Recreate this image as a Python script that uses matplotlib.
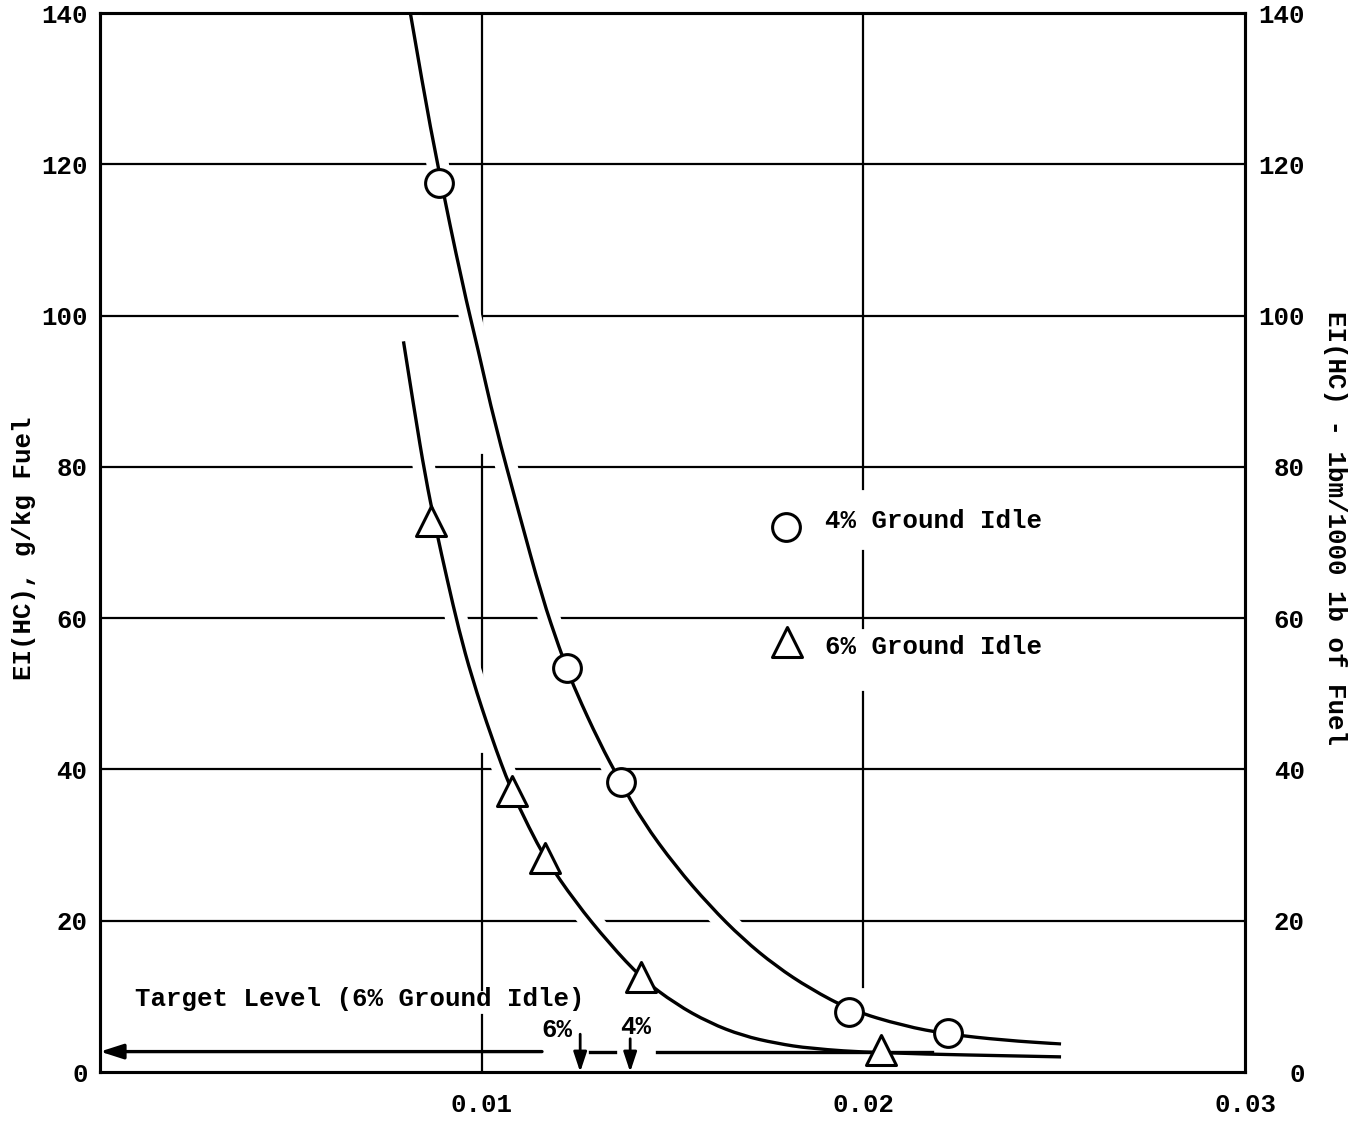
import matplotlib
matplotlib.use('Agg')
import matplotlib.pyplot as plt
import matplotlib.patheffects as pe
from matplotlib.markers import MarkerStyle
from matplotlib.path import Path
from matplotlib.patches import PathPatch

x_4pct = [0.00887, 0.01224, 0.01366, 0.01963, 0.02221]
y_4pct = [117.5, 53.4, 38.3, 8.0, 5.1]
x_6pct = [0.00866, 0.01079, 0.01166, 0.01418, 0.02047]
y_6pct = [72.8, 37.2, 28.3, 12.6, 2.9]

# faired curves
cx_4pct = [0.00813, 0.00847, 0.00884, 0.00950, 0.00991, 0.01034, 0.01097,
           0.01158, 0.01205, 0.01224, 0.01245, 0.01308, 0.01363, 0.01421, 0.01508,
           0.01597, 0.01684, 0.01771, 0.01861, 0.01966, 0.02105, 0.02221, 0.02368,
           0.02518]
cy_4pct = [140.0, 130.0, 120.0, 104.0, 95.4, 85.8, 74.0,
           62.8, 55.8, 53.3, 50.5, 43.6, 38.4, 33.2, 27.2,
           22.0, 17.6, 14.0, 11.0, 8.2, 6.1, 5.0, 4.2,
           3.7]
cx_6pct = [0.00795, 0.00824, 0.00852, 0.00880, 0.00910, 0.00940, 0.00974, 0.01026,
           0.01076, 0.01124, 0.01166, 0.01245, 0.01334, 0.01421, 0.01508, 0.01597,
           0.01684, 0.01771, 0.01861, 0.02034, 0.02518]
cy_6pct = [96.6, 87.3, 78.8, 71.8, 65.0, 58.5, 52.2, 44.2,
           37.4, 32.3, 28.3, 22.5, 17.0, 12.3, 9.0, 6.5,
           4.8, 3.8, 3.1, 2.5, 2.0]

target_level = 2.7
target_x_6 = 0.01258
target_x_4 = 0.01389

x_ticks = [0.01, 0.02, 0.03]
x_ticklabels = ['0.01', '0.02', '0.03']
y_ticks = [0, 20, 40, 60, 80, 100, 120, 140]

# pieces of the vertical rulings that were actually drawn (the rest is left blank)
vgrid_pieces = {0.01: [(0, 7.5), (10.9, 42.0), (50.2, 81.6), (95.6, 140)],
                0.02: [(11.3, 50.2), (58.7, 68.9), (77.1, 140)]}

plt.rcParams['font.family'] = ['Liberation Mono', 'DejaVu Sans Mono']
plt.rcParams['font.weight'] = 'bold'
plt.rcParams['axes.labelweight'] = 'bold'
FS = 18.5


def smooth(xs, ys):
    # quadratic bezier through the traced points (midpoint scheme)
    verts = [(xs[0], ys[0])]
    codes = [Path.MOVETO]
    for i in range(1, len(xs) - 1):
        verts.append((xs[i], ys[i]))
        verts.append(((xs[i] + xs[i + 1]) / 2, (ys[i] + ys[i + 1]) / 2))
        codes += [Path.CURVE3, Path.CURVE3]
    verts.append((xs[-1], ys[-1]))
    codes.append(Path.LINETO)
    return Path(verts, codes)


fig = plt.figure(figsize=(13.54, 11.25), dpi=100)
ax = fig.add_axes([0.0739, 0.0471, 0.8456, 0.9413])
ax.set_xlim(0, 0.03)
ax.set_ylim(0, 140)

# rulings
for gx, pieces in vgrid_pieces.items():
    for y0, y1 in pieces:
        ax.plot([gx, gx], [y0, y1], color='black', lw=1.6, zorder=1)
for gy in y_ticks[1:-1]:
    ax.axhline(gy, color='black', lw=1.6, zorder=1)

# curves, with a white halo so the rulings are broken where they cross
halo = [pe.Stroke(linewidth=16, foreground='white'), pe.Normal()]
for cx, cy in [(cx_4pct, cy_4pct), (cx_6pct, cy_6pct)]:
    ax.add_patch(PathPatch(smooth(cx, cy), fill=False, edgecolor='black', lw=2.4,
                           zorder=3, path_effects=halo, capstyle='butt'))

tri = MarkerStyle('^', joinstyle='round')
ax.plot(x_4pct, y_4pct, 'o', ms=20, mfc='white', mec='black', mew=2.2, zorder=5)
ax.plot(x_6pct, y_6pct, linestyle='none', marker=tri, ms=22, mfc='white',
        mec='black', mew=2.2, zorder=5)

# legend drawn inside the plot like the original
ax.plot([0.01797], [72.1], 'o', ms=20, mfc='white', mec='black', mew=2.2, zorder=5)
ax.plot([0.01800], [56.8], linestyle='none', marker=tri, ms=22, mfc='white',
        mec='black', mew=2.2, zorder=5)
ax.text(0.0190, 72.8, '4% Ground Idle', fontsize=FS, va='center', ha='left', zorder=6)
ax.text(0.0190, 56.2, '6% Ground Idle', fontsize=FS, va='center', ha='left', zorder=6)

# target level line with gaps around the two markers
ax.annotate('', xy=(0, target_level), xytext=(target_x_6 - 0.001, target_level),
            arrowprops=dict(arrowstyle='-|>,head_length=1.4,head_width=0.45',
                            color='black', lw=2.4, shrinkA=0, shrinkB=0), zorder=4)
ax.plot([target_x_6 + 0.00026, target_x_4 - 0.0004], [target_level, target_level],
        color='black', lw=2.4, zorder=4)
ax.plot([target_x_4 + 0.0007, 0.0218], [target_level, target_level],
        color='black', lw=2.4, zorder=4)
for tx, top in [(target_x_6, 5.0), (target_x_4, 4.4)]:
    ax.annotate('', xy=(tx, 0), xytext=(tx, top),
                arrowprops=dict(arrowstyle='-|>,head_length=1.2,head_width=0.4',
                                color='black', lw=2.0, shrinkA=0, shrinkB=0), zorder=4)
ax.text(target_x_6 - 0.0002, 5.6, '6%', fontsize=FS, ha='right', va='center', zorder=6)
ax.text(target_x_4 + 0.00014, 4.3, '4%', fontsize=FS, ha='center', va='bottom', zorder=6)
ax.text(0.00092, 9.6, 'Target Level (6% Ground Idle)', fontsize=FS, ha='left',
        va='center', zorder=6)

# axes styling
for sp in ax.spines.values():
    sp.set_linewidth(2.2)
ax.set_xticks(x_ticks)
ax.set_xticklabels(x_ticklabels)
ax.set_yticks(y_ticks)
ax.tick_params(axis='both', length=0, labelsize=FS)
ax.tick_params(axis='x', pad=15)
ax.tick_params(axis='y', pad=9)
ax.set_ylabel('EI(HC), g/kg Fuel', fontsize=FS)
ax.yaxis.set_label_coords(-0.0559, 0.495)

ax2 = ax.twinx()
ax2.set_ylim(0, 140)
ax2.set_yticks(y_ticks)
ax2.tick_params(axis='y', length=0, labelsize=FS, pad=43)
for lbl in ax2.get_yticklabels():
    lbl.set_horizontalalignment('right')
for sp in ax2.spines.values():
    sp.set_linewidth(2.2)
ax2.set_ylabel('EI(HC) - 1bm/1000 1b of Fuel', fontsize=FS, rotation=270, va='center')
ax2.yaxis.set_label_coords(1.0786, 0.514)

fig.savefig('out.png', dpi=100)
